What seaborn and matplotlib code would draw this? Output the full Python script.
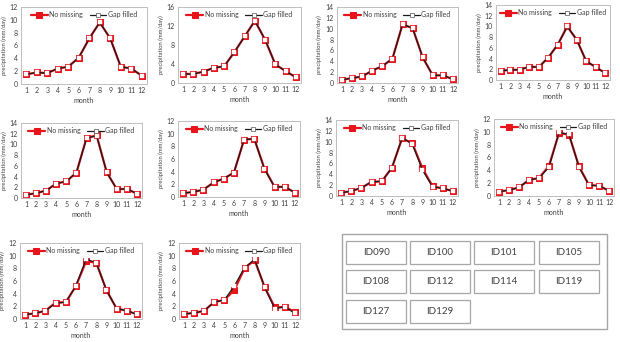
import matplotlib
matplotlib.use("Agg")
import matplotlib.pyplot as plt
import seaborn as sns
import pandas as pd
from matplotlib.patches import Rectangle

# ── Data ──────────────────────────────────────────────────────────────────────
months = list(range(1, 13))

station_ids = ["ID090", "ID100", "ID101", "ID105", "ID108",
               "ID112", "ID114", "ID119", "ID127", "ID129"]

nm_id090 = [1.5, 1.8, 1.7, 2.4, 2.7, 4.1, 7.1, 9.6, 7.1, 2.7, 2.4, 1.3]
gf_id090 = [1.5, 1.8, 1.7, 2.4, 2.7, 4.1, 7.1, 9.6, 7.1, 2.7, 2.4, 1.3]
nm_id100 = [1.9, 1.9, 2.4, 3.2, 3.5, 6.5, 9.8, 13.1, 9.1, 3.9, 2.5, 1.2]
gf_id100 = [1.9, 1.9, 2.4, 3.2, 3.5, 6.5, 9.8, 13.1, 9.1, 3.9, 2.5, 1.2]
nm_id101 = [0.6, 0.9, 1.2, 2.3, 3.1, 4.5, 10.8, 10.1, 4.7, 1.4, 1.4, 0.7]
gf_id101 = [0.6, 0.9, 1.2, 2.3, 3.1, 4.5, 10.8, 10.1, 4.7, 1.4, 1.4, 0.7]
nm_id105 = [1.7, 1.9, 1.9, 2.5, 2.4, 4.2, 6.6, 10.0, 7.5, 3.5, 2.4, 1.3]
gf_id105 = [1.7, 1.9, 1.9, 2.5, 2.4, 4.2, 6.6, 10.0, 7.5, 3.5, 2.4, 1.3]
nm_id108 = [0.6, 0.9, 1.4, 2.7, 3.1, 4.75, 11.2, 11.7, 4.8, 1.65, 1.7, 0.8]
gf_id108 = [0.6, 0.9, 1.4, 2.7, 3.1, 4.75, 11.2, 11.6, 4.8, 1.65, 1.7, 0.8]
nm_id112 = [0.6, 0.8, 1.15, 2.3, 2.9, 3.85, 9.05, 9.2, 4.5, 1.6, 1.6, 0.7]
gf_id112 = [0.6, 0.8, 1.15, 2.3, 2.9, 3.85, 9.05, 9.2, 4.4, 1.6, 1.6, 0.7]
nm_id114 = [0.6, 0.9, 1.5, 2.6, 2.7, 5.2, 10.6, 9.75, 5.1, 1.8, 1.4, 0.9]
gf_id114 = [0.6, 0.9, 1.5, 2.6, 2.7, 5.2, 10.7, 9.6, 4.8, 1.7, 1.4, 0.9]
nm_id119 = [0.7, 0.9, 1.35, 2.5, 2.8, 4.7, 9.8, 9.55, 4.6, 1.7, 1.6, 0.8]
gf_id119 = [0.7, 0.9, 1.35, 2.5, 2.8, 4.5, 9.9, 9.6, 4.5, 1.7, 1.6, 0.8]
nm_id127 = [0.7, 0.9, 1.3, 2.6, 2.65, 5.2, 9.1, 8.9, 4.55, 1.65, 1.3, 0.75]
gf_id127 = [0.7, 0.9, 1.3, 2.5, 2.65, 5.2, 9.45, 8.9, 4.55, 1.65, 1.3, 0.75]
nm_id129 = [0.8, 0.95, 1.3, 2.7, 3.0, 4.6, 8.0, 9.3, 5.0, 1.85, 1.9, 1.1]
gf_id129 = [0.8, 0.95, 1.3, 2.7, 3.0, 5.25, 8.1, 9.4, 5.0, 1.65, 1.9, 0.9]

no_missing = [nm_id090, nm_id100, nm_id101, nm_id105, nm_id108,
              nm_id112, nm_id114, nm_id119, nm_id127, nm_id129]
gap_filled = [gf_id090, gf_id100, gf_id101, gf_id105, gf_id108,
              gf_id112, gf_id114, gf_id119, gf_id127, gf_id129]

y_max = [12, 16, 14, 14, 14, 12, 14, 12, 12, 12]
y_step = [2, 4, 2, 2, 2, 2, 2, 2, 2, 2]

# ── Layout (pixels: left, top, right, bottom) ────────────────────────────────
W, H = 620, 342
panel_px = [
    (21, 7, 147, 84), (178, 7, 301, 83), (337, 7, 458, 83), (496, 5, 610, 80),
    (21, 123, 142, 198), (178, 121, 300, 197), (336, 120, 458, 196), (494, 119, 614, 196),
    (20, 243, 142, 319), (179, 243, 300, 319),
]

TEXT = "#404040"
GRID = "#bfbfbf"

sns.set_style("white")
plt.rcParams["font.family"] = ["Lato", "DejaVu Sans"]

fig = plt.figure(figsize=(W / 100, H / 100), dpi=100)


def px_rect(l, t, r, b):
    return [l / W, 1 - b / H, (r - l) / W, (b - t) / H]


for i, (l, t, r, b) in enumerate(panel_px):
    ax = fig.add_axes(px_rect(l, t, r, b))
    df = pd.DataFrame({"month": months,
                       "nm": no_missing[i],
                       "gf": gap_filled[i]})
    sns.lineplot(data=df, x="month", y="nm", ax=ax, color="#e8141b",
                 linewidth=1.6, marker="s", markersize=4.8,
                 markerfacecolor="#e8141b", markeredgecolor="#e8141b",
                 label="No missing")
    sns.lineplot(data=df, x="month", y="gf", ax=ax, color="#1a1a1a",
                 linewidth=0.9, marker="s", markersize=3.2,
                 markerfacecolor="white", markeredgecolor="white",
                 markeredgewidth=0.3, label="Gap filled")
    ax.set_xlim(0.5, 12.5)
    ax.set_ylim(0, y_max[i])
    ax.set_xticks(months)
    ax.set_yticks(range(0, y_max[i] + 1, y_step[i]))
    ax.tick_params(length=0, labelsize=5, colors=TEXT, pad=2.5)
    ax.set_xlabel("month", fontsize=5, color=TEXT, labelpad=1.5)
    ax.set_ylabel("precipitation (mm/day)", fontsize=4.2, color=TEXT, labelpad=2)
    for sp in ax.spines.values():
        sp.set_color(GRID)
        sp.set_linewidth(0.7)
    leg = ax.legend(loc="upper center", bbox_to_anchor=(0.5, 1.0), ncol=2,
                    frameon=False, fontsize=5, handlelength=2.4,
                    handletextpad=0.2, columnspacing=1.0, borderaxespad=0.2,
                    labelcolor=TEXT)
    gh = leg.legend_handles[1]
    gh.set_markeredgecolor("#555555")
    gh.set_markeredgewidth(0.5)

# ── ID box ────────────────────────────────────────────────────────────────────
def px_box(l, t, r, b, lw):
    fig.patches.append(Rectangle((l / W, 1 - b / H), (r - l) / W, (b - t) / H,
                                 transform=fig.transFigure, fill=False,
                                 edgecolor="#a6a6a6", linewidth=lw))

px_box(342, 234, 607, 329, 1.0)
col_x = [(346, 406), (410, 470), (474, 534), (539, 599)]
row_y = [(241, 264), (270, 293), (300, 323)]
for k, sid in enumerate(station_ids):
    (l, r) = col_x[k % 4]
    (t, b) = row_y[k // 4]
    px_box(l, t, r, b, 0.9)
    fig.text((l + r) / 2 / W, 1 - (t + b) / 2 / H, sid, ha="center",
             va="center", fontsize=7, color=TEXT)

fig.savefig("out.png", dpi=100)
